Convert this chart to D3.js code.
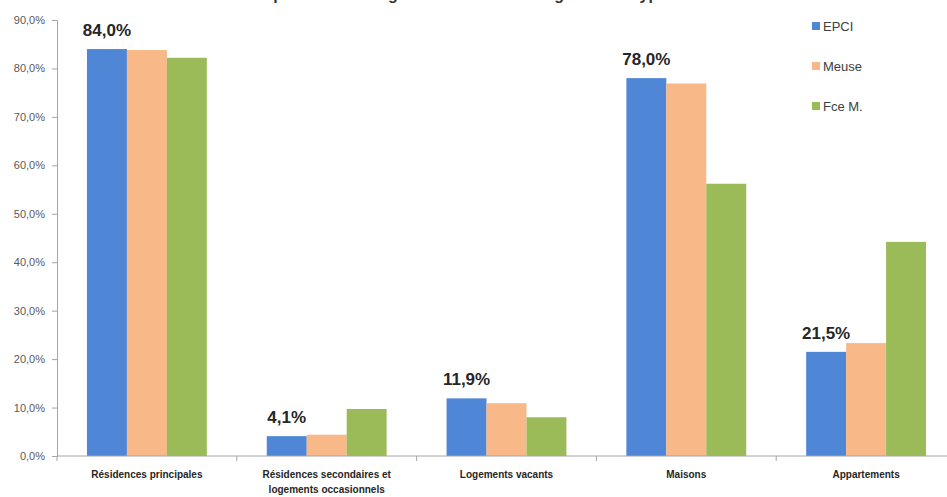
<!DOCTYPE html>
<html><head><meta charset="utf-8">
<script src="https://cdn.jsdelivr.net/npm/d3@7"></script>
<style>body{margin:0;background:#fff}svg{display:block}</style>
</head><body><div id="chart"></div>
<script>
const title = "Répartition des logements selon la catégorie et le type";
const categories = [["Résidences principales"],["Résidences secondaires et","logements occasionnels"],["Logements vacants"],["Maisons"],["Appartements"]];
const series = ["EPCI","Meuse","Fce M."];
const epci = [84.0, 4.1, 11.9, 78.0, 21.5];
const meuse = [83.8, 4.4, 10.9, 76.9, 23.3];
const fceM = [82.2, 9.7, 8.0, 56.2, 44.2];
const yTicks = [0,10,20,30,40,50,60,70,80,90];
const colors = ["#4F86D6","#F8B888","#9BBB59"];

const W = 947, H = 497;
const svg = d3.select("#chart").append("svg").attr("width",W).attr("height",H);
const values = [epci, meuse, fceM];
const x0 = d3.scaleBand().domain(d3.range(categories.length)).range([57, 956]).paddingInner(0).paddingOuter(0);
const x1 = d3.scaleBand().domain(d3.range(series.length)).range([0, x0.bandwidth()]).paddingOuter(0.75).paddingInner(0);
const y = d3.scaleLinear().domain([0,90]).range([456,20]);

svg.append("text").attr("x",460).attr("y",0).attr("text-anchor","middle")
  .attr("font-family","Liberation Sans, Arial, sans-serif").attr("font-weight","bold").attr("font-size",16)
  .attr("fill","#333").text(title);

// bars
series.forEach((s,si)=>{
  svg.append("g").selectAll("rect").data(values[si]).join("rect")
    .attr("x",(d,i)=>x0(i)+x1(si)).attr("width",x1.bandwidth())
    .attr("y",d=>y(d)).attr("height",d=>y(0)-y(d)).attr("fill",colors[si]);
});

// labels on EPCI
svg.append("g").selectAll("text").data(epci).join("text")
  .attr("x",(d,i)=>x0(i)+x1(0)+x1.bandwidth()/2).attr("y",d=>y(d)-13)
  .attr("text-anchor","middle").attr("font-family","Liberation Sans, Arial, sans-serif")
  .attr("font-weight","bold").attr("font-size",17).attr("fill","#262626")
  .text(d=>d.toFixed(1).replace(".",",")+"%");

// y axis
const yAxis = d3.axisLeft(y).tickValues(yTicks).tickSize(5).tickPadding(7)
  .tickFormat(d=>d.toFixed(1).replace(".",",")+"%");
const gy = svg.append("g").attr("transform","translate(57,0)").call(yAxis);
gy.select(".domain").attr("stroke","#a6a6a6");
gy.selectAll(".tick line").attr("stroke","#a6a6a6");
gy.selectAll(".tick text").attr("font-family","Liberation Sans, Arial, sans-serif").attr("font-size",11).attr("fill","#595959");

// x axis
svg.append("line").attr("x1",57).attr("x2",956).attr("y1",y(0)).attr("y2",y(0)).attr("stroke","#a6a6a6");
svg.append("g").selectAll("line").data(d3.range(categories.length+1)).join("line")
  .attr("x1",i=>57+i*x0.bandwidth()).attr("x2",i=>57+i*x0.bandwidth())
  .attr("y1",y(0)).attr("y2",y(0)+5).attr("stroke","#a6a6a6");
const xl = svg.append("g").selectAll("text").data(categories).join("text")
  .attr("x",(d,i)=>x0(i)+x0.bandwidth()/2).attr("y",478)
  .attr("text-anchor","middle").attr("font-family","Liberation Sans, Arial, sans-serif")
  .attr("font-weight","bold").attr("font-size",10).attr("fill","#262626");
xl.each(function(d){
  d3.select(this).selectAll("tspan").data(d).join("tspan")
    .attr("x",d3.select(this).attr("x")).attr("dy",(t,j)=>j?15:0).text(t=>t);
});

// legend
const lg = svg.append("g").selectAll("g").data(series).join("g")
  .attr("transform",(d,i)=>`translate(812,${22+i*40})`);
lg.append("rect").attr("width",8).attr("height",8).attr("fill",(d,i)=>colors[i]);
lg.append("text").attr("x",11).attr("y",8.5).attr("font-family","Liberation Sans, Arial, sans-serif")
  .attr("font-size",13).attr("fill","#404040").text(d=>d);
</script></body></html>
